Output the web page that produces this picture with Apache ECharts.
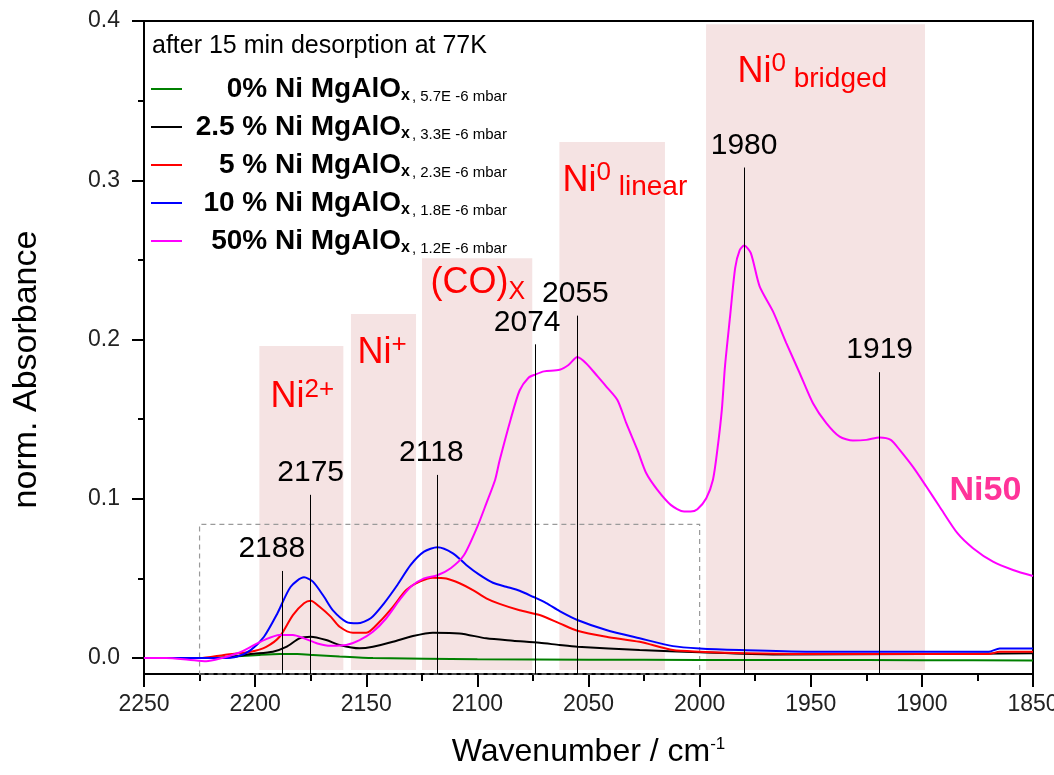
<!DOCTYPE html>
<html>
<head>
<meta charset="utf-8">
<title>CO adsorption on Ni MgAlOx</title>
<script src="https://cdn.jsdelivr.net/npm/echarts@6/dist/echarts.min.js"></script>
<style>
    html, body { margin: 0; padding: 0; background: #fff; }
    #main { width: 1054px; height: 775px; }
</style>
</head>
<body>
<div id="main"></div>
<script>
    // spectra: wavenumber (cm-1) / normalised absorbance
    const wnNi0 = [2250, 2220, 2210, 2198, 2189, 2181, 2174, 2162, 2147, 2100, 2050, 2000, 1950, 1900, 1850];
    const absNi0 = [0, 0, 0.001, 0.002, 0.0025, 0.0025, 0.002, 0.001, 0, -0.0008, -0.001, -0.0012, -0.0012, -0.0013, -0.0015];

    const wnNi25 = [2250, 2215, 2202, 2192, 2186, 2180, 2175, 2168, 2162, 2153, 2147, 2138, 2129, 2120, 2108, 2096, 2084, 2072, 2063, 2055, 2027, 2000, 1967, 1900, 1850];
    const absNi25 = [0, 0, 0.0025, 0.004, 0.007, 0.0124, 0.0134, 0.0113, 0.0082, 0.0061, 0.0071, 0.0102, 0.0138, 0.0159, 0.0155, 0.0124, 0.0109, 0.0096, 0.0082, 0.0071, 0.005, 0.0036, 0.0023, 0.0025, 0.003];

    const wnNi5 = [2250, 2225, 2214, 2202, 2195, 2189, 2183, 2178, 2175, 2171, 2166, 2162, 2156, 2150, 2144, 2138, 2132, 2126, 2120, 2114, 2108, 2102, 2096, 2090, 2081, 2072, 2063, 2055, 2042, 2027, 2012, 2000, 1980, 1952, 1900, 1870, 1865, 1850];
    const absNi5 = [0, 0, 0.002, 0.004, 0.0071, 0.0134, 0.027, 0.0344, 0.036, 0.0322, 0.026, 0.0197, 0.0159, 0.0159, 0.0228, 0.0322, 0.0427, 0.048, 0.0505, 0.05, 0.047, 0.0427, 0.0375, 0.034, 0.03, 0.027, 0.0218, 0.0172, 0.0134, 0.0102, 0.005, 0.004, 0.003, 0.0025, 0.0025, 0.0025, 0.004, 0.004];

    const wnNi10 = [2250, 2230, 2215, 2208, 2202, 2196, 2190, 2184, 2178, 2174, 2169, 2165, 2159, 2154, 2148, 2142, 2136, 2130, 2124, 2118, 2111, 2105, 2099, 2093, 2087, 2081, 2075, 2069, 2063, 2055, 2042, 2027, 2012, 2000, 1982, 1952, 1900, 1870, 1865, 1850];
    const absNi10 = [0, 0, 0, 0.001, 0.005, 0.0134, 0.028, 0.0448, 0.0507, 0.048, 0.0385, 0.03, 0.0228, 0.0218, 0.025, 0.0344, 0.0459, 0.0585, 0.0668, 0.0696, 0.0658, 0.0585, 0.0522, 0.0473, 0.0448, 0.0423, 0.0385, 0.0345, 0.0295, 0.0239, 0.0176, 0.0124, 0.0075, 0.006, 0.005, 0.004, 0.004, 0.004, 0.006, 0.006];

    const wnNi50 = [2250, 2240, 2230, 2222, 2215, 2208, 2202, 2196, 2189, 2183, 2178, 2172, 2166, 2159, 2153, 2147, 2141, 2135, 2130, 2124, 2118, 2112, 2106, 2100, 2096, 2092, 2090, 2085, 2081, 2077, 2074, 2070, 2063, 2059, 2055, 2051, 2046, 2042, 2037, 2033, 2028, 2024, 2019, 2013, 2007, 2004, 2001, 1997, 1994, 1992, 1990, 1988.6, 1986.3, 1984, 1982, 1980, 1977, 1973, 1967, 1961, 1955, 1949, 1943, 1937, 1931, 1925, 1919, 1914, 1910, 1904, 1898, 1892, 1884, 1877, 1868, 1859, 1850];
    const absNi50 = [0, 0, -0.001, -0.002, 0, 0.003, 0.007, 0.0113, 0.0145, 0.0145, 0.0124, 0.0092, 0.0077, 0.0082, 0.0113, 0.0165, 0.025, 0.0365, 0.0448, 0.05, 0.052, 0.0564, 0.0647, 0.0825, 0.097, 0.112, 0.124, 0.15, 0.168, 0.176, 0.178, 0.18, 0.181, 0.184, 0.189, 0.185, 0.177, 0.1705, 0.162, 0.1475, 0.1307, 0.116, 0.1056, 0.0962, 0.092, 0.092, 0.0935, 0.1004, 0.112, 0.131, 0.156, 0.183, 0.2145, 0.245, 0.256, 0.259, 0.2544, 0.2334, 0.2177, 0.1978, 0.179, 0.16, 0.1475, 0.139, 0.1366, 0.137, 0.1385, 0.137, 0.1307, 0.12, 0.1077, 0.095, 0.0784, 0.069, 0.0605, 0.0553, 0.0515];

    const sampleLabels = ['0% Ni MgAlO', '2.5 % Ni MgAlO', '5 % Ni MgAlO', '10 % Ni MgAlO', '50% Ni MgAlO'];
    const pressures = ['5.7E -6 mbar', '3.3E -6 mbar', '2.3E -6 mbar', '1.8E -6 mbar', '1.2E -6 mbar'];
    const lineColors = ['#008000', '#000000', '#ff0000', '#0000ff', '#ff00ff'];
    const seriesNames = sampleLabels.map(s => s + 'x');
    const spectraWn = [wnNi0, wnNi25, wnNi5, wnNi10, wnNi50];
    const spectraAbs = [absNi0, absNi25, absNi5, absNi10, absNi50];

    // peak positions and where their marker lines stop
    const peakWn = [2188, 2175, 2118, 2074, 2055, 1980, 1919];
    const peakTop = [0.0547, 0.1025, 0.115, 0.197, 0.215, 0.308, 0.1795];
    const peakLabelShift = [-10, 0, -6, -8, -2, 0, 0];

    // assignment bands: from, to, top
    const bandFrom = [2198.1, 2156.9, 2124.9, 2063.1, 1997.1];
    const bandTo = [2160.3, 2127.6, 2075.3, 2015.6, 1898.6];
    const bandTop = [0.196, 0.216, 0.251, 0.324, 0.398];
    const bandText = ['{m|Ni}{p|2+}', '{m|Ni}{p|+}', '{m|(CO)}{c|X}', '{m|Ni}{p|0}{b| linear}', '{m|Ni}{p|0}{b| bridged}'];
    const bandTextAt = [[2193.3, 0.1637], [2154.2, 0.1914], [2121.3, 0.2354], [2061.9, 0.2998], [1983.2, 0.368]];

    const zoomBox = [[2225, -0.01], [2000, 0.084]];
    const yTicks = [0, 0.1, 0.2, 0.3, 0.4];
    const yMinorTicks = [0.05, 0.15, 0.25, 0.35];
    const yMin = -0.01, yMax = 0.4;

    const font = '"Liberation Sans", Arial, sans-serif';

    // legend sample names are right aligned on the "O" of MgAlO
    const legendFontSize = 28;
    const legendTextWidth = 214;
    const ctx = document.createElement('canvas').getContext('2d');
    ctx.font = 'bold ' + legendFontSize + 'px ' + font;
    const legendRich = {
        x: {fontFamily: font, fontSize: 16, fontWeight: 'bold', color: '#000', verticalAlign: 'bottom', lineHeight: 16},
        s: {fontFamily: font, fontSize: 15, color: '#000', verticalAlign: 'bottom', lineHeight: 17, padding: [0, 0, 0, 2]}
    };
    sampleLabels.forEach((s, i) => {
        const pad = Math.max(0, legendTextWidth - ctx.measureText(s).width);
        legendRich['b' + i] = {
            fontFamily: font, fontSize: legendFontSize, fontWeight: 'bold', color: '#000',
            lineHeight: 30, padding: [0, 0, 0, pad]
        };
    });

    const myChart = echarts.init(document.getElementById('main'));

    const curves = spectraWn.map((wn, i) => ({
        name: seriesNames[i],
        type: 'line',
        z: 3,
        symbol: 'none',
        smooth: 0.25,
        lineStyle: {color: lineColors[i], width: 2},
        itemStyle: {color: lineColors[i]},
        emphasis: {disabled: true},
        data: wn.map((w, j) => [w, spectraAbs[i][j]])
    }));

    const option = {
        animation: false,
        textStyle: {fontFamily: font},
        title: {
            text: 'after 15 min desorption at 77K',
            left: 152,
            top: 34,
            padding: 0,
            textStyle: {fontFamily: font, fontSize: 25, fontWeight: 'normal', color: '#000'}
        },
        legend: {
            data: seriesNames,
            orient: 'vertical',
            left: 151,
            top: 75,
            padding: 0,
            icon: 'rect',
            itemWidth: 31,
            itemHeight: 2,
            itemGap: 9,
            selectedMode: false,
            formatter: function (name) {
                const i = seriesNames.indexOf(name);
                return '{b' + i + '|' + sampleLabels[i] + '}{x|x}{s|, ' + pressures[i] + '}';
            },
            textStyle: {fontFamily: font, rich: legendRich}
        },
        grid: {
            left: 144, right: 21, top: 21, bottom: 101,
            outerBoundsMode: 'none',
            show: true, borderColor: '#000', borderWidth: 2, backgroundColor: 'transparent'
        },
        xAxis: {
            type: 'value',
            min: 1850,
            max: 2250,
            interval: 50,
            inverse: true,
            name: '{a|Wavenumber / cm}{s|-1}',
            nameLocation: 'middle',
            nameGap: 62,
            nameTextStyle: {
                rich: {
                    a: {fontFamily: font, fontSize: 32, color: '#000'},
                    s: {fontFamily: font, fontSize: 17, color: '#000', verticalAlign: 'top'}
                }
            },
            axisLine: {onZero: false, lineStyle: {color: '#000', width: 2}},
            axisTick: {length: 13, lineStyle: {color: '#000', width: 2}},
            minorTick: {show: true, splitNumber: 2, length: 7, lineStyle: {color: '#000', width: 2}},
            axisLabel: {
                fontFamily: font, fontSize: 23, color: '#222', margin: 19,
                showMinLabel: true, showMaxLabel: true,
                formatter: v => String(v)
            },
            splitLine: {show: false}
        },
        yAxis: [
            {
                type: 'value',
                min: yMin,
                max: yMax,
                name: 'norm. Absorbance',
                nameLocation: 'middle',
                nameGap: 100,
                nameTextStyle: {fontFamily: font, fontSize: 34, color: '#000', padding: [0, 44, 0, 0]},
                axisLine: {lineStyle: {color: '#000', width: 2}},
                axisTick: {customValues: yTicks, length: 12, lineStyle: {color: '#000', width: 2}},
                axisLabel: {
                    customValues: yTicks,
                    fontFamily: font, fontSize: 23, color: '#222', margin: 24,
                    formatter: v => v.toFixed(1)
                },
                splitLine: {show: false}
            },
            {
                // only carries the minor ticks between the labelled ones
                type: 'value',
                min: yMin,
                max: yMax,
                position: 'left',
                axisLine: {show: false},
                axisTick: {customValues: yMinorTicks, length: 6, lineStyle: {color: '#000', width: 2}},
                axisLabel: {show: false},
                splitLine: {show: false}
            }
        ],
        series: [
            {
                name: 'bands',
                type: 'line',
                z: 1,
                data: [],
                silent: true,
                markArea: {
                    silent: true,
                    itemStyle: {color: '#f5e3e3'},
                    label: {show: false},
                    data: bandFrom.map((f, i) => [{coord: [f, -0.0075]}, {coord: [bandTo[i], bandTop[i]]}]).concat([[
                        {coord: zoomBox[0], itemStyle: {color: 'rgba(0,0,0,0)', borderColor: '#9a9a9a', borderWidth: 1.2, borderType: [5, 4]}},
                        {coord: zoomBox[1]}
                    ]])
                }
            },
            {
                name: 'peaks',
                type: 'line',
                z: 2,
                data: [],
                silent: true,
                markLine: {
                    silent: true,
                    symbol: ['none', 'none'],
                    lineStyle: {color: '#000', width: 1, type: 'solid'},
                    label: {
                        show: true,
                        position: 'end',
                        distance: 7,
                        formatter: p => p.name,
                        fontFamily: font,
                        fontSize: 30,
                        color: '#000'
                    },
                    emphasis: {disabled: true},
                    data: peakWn.map((w, i) => [
                        {coord: [w, yMin], name: String(w), label: {offset: [peakLabelShift[i], 0]}},
                        {coord: [w, peakTop[i]]}
                    ])
                }
            },
            {
                name: 'labels',
                type: 'line',
                z: 5,
                data: [],
                silent: true,
                markPoint: {
                    silent: true,
                    symbol: 'circle',
                    symbolSize: 1,
                    itemStyle: {color: 'rgba(0,0,0,0)'},
                    label: {
                        show: true,
                        position: 'right',
                        distance: 0,
                        color: '#ff0000',
                        rich: {
                            m: {fontFamily: font, fontSize: 36, color: '#ff0000', lineHeight: 42},
                            p: {fontFamily: font, fontSize: 26, color: '#ff0000', verticalAlign: 'top', lineHeight: 26},
                            c: {fontFamily: font, fontSize: 25, color: '#ff0000', verticalAlign: 'bottom', lineHeight: 18},
                            b: {fontFamily: font, fontSize: 28, color: '#ff0000', verticalAlign: 'bottom', lineHeight: 8}
                        }
                    },
                    data: bandText.map((t, i) => ({coord: bandTextAt[i], value: 0, label: {formatter: t}})).concat([{
                        coord: [1887.8, 0.105],
                        value: 0,
                        label: {formatter: 'Ni50', fontFamily: font, fontSize: 34, fontWeight: 'bold', color: '#ff3399'}
                    }])
                }
            }
        ].concat(curves)
    };

    myChart.setOption(option);
</script>
</body>
</html>
